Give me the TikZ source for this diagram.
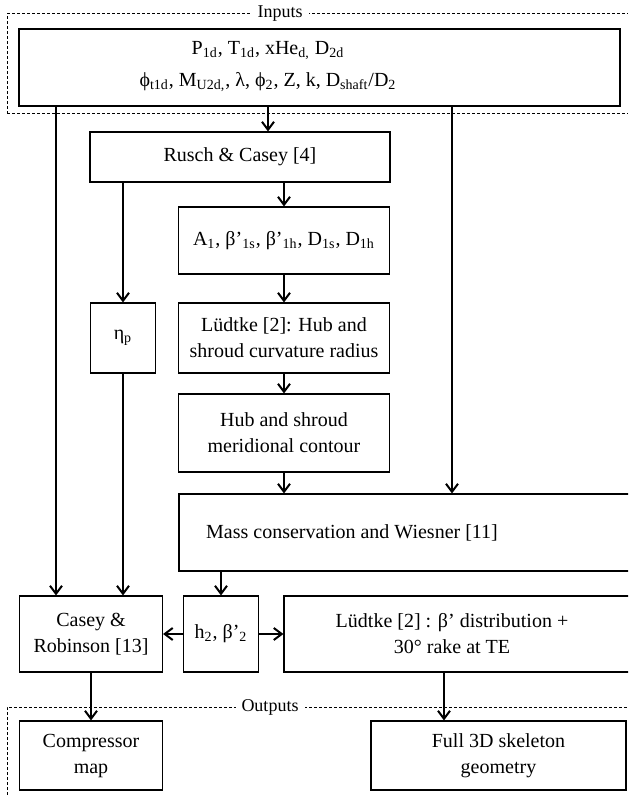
\documentclass[tikz,border=0pt]{standalone}
\usepackage{fontspec}
\setmainfont{Liberation Serif}
\usetikzlibrary{arrows.meta}

\begin{document}
\begin{tikzpicture}[x=0.5pt,y=-0.5pt,
    box/.style={draw,line width=0.55pt,inner sep=0pt,align=center,font=\fontsize{10}{13}\selectfont},
    txt/.style={inner sep=0pt,align=center,font=\fontsize{10}{13}\selectfont},
    frame/.style={dash pattern=on 1.5pt off 1pt,line width=0.5pt},
    tag/.style={fill=white,inner xsep=3pt,inner ysep=1pt,font=\fontsize{9}{10}\selectfont},
    arr/.style={-{Straight Barb[length=4pt,width=6pt]},line width=1pt}]

        \clip (0,0) rectangle (628,795);

        \draw[frame] (7,114) -- (7,14) -- (628,14);
        \draw[frame] (7,114) -- (628,114);
        \draw[frame] (7,795) -- (7,707) -- (628,707);
        \node[tag] (intag) at (280,14) {Inputs};
        \node[tag] (outtag) at (270,707) {Outputs};

        \begin{scope}[every node/.style={box}]
            \node[minimum width=300.5pt,minimum height=38.5pt] (inputs) at (319.5,67.5) {};
            \node[minimum width=150pt,minimum height=25pt] (rusch) at (240,157) {Rusch \& Casey [4]};
            \node[minimum width=105.5pt,minimum height=33.5pt] (geom) at (284,240.5)
                {A\textsubscript{1}, β’\textsubscript{1s}, β’\textsubscript{1h}, D\textsubscript{1s}, D\textsubscript{1h}};
            \node[minimum width=32.5pt,minimum height=35pt] (eta) at (123,338) {η\textsubscript{p}};
            \node[minimum width=105.5pt,minimum height=35pt] (lud1) at (284,338)
                {Lüdtke [2]: Hub and\\shroud curvature radius};
            \node[minimum width=105.5pt,minimum height=39pt] (hub) at (284,433)
                {Hub and shroud\\meridional contour};
            \node[minimum width=230.5pt,minimum height=38.5pt] (mass) at (409.5,532.5) {};
            \node[minimum width=71.5pt,minimum height=38pt] (casey) at (91,634) {Casey \&\\Robinson [13]};
            \node[minimum width=37.5pt,minimum height=38pt] (h2) at (221,634) {h\textsubscript{2}, β’\textsubscript{2}};
            \node[minimum width=178pt,minimum height=38pt] (lud2) at (462,634) {};
            \node[minimum width=71.5pt,minimum height=34.5pt] (comp) at (91,755.5) {Compressor\\map};
            \node[minimum width=127.5pt,minimum height=34.5pt] (full) at (498.5,755.5)
                {Full 3D skeleton\\geometry};
        \end{scope}

        \node[txt,font=\fontsize{10}{16}\selectfont] (intext) at (268,67)
            {P\textsubscript{1d}, T\textsubscript{1d}, xHe\textsubscript{d,} D\textsubscript{2d}\\
             ϕ\textsubscript{t1d}, M\textsubscript{U2d,}, λ, ϕ\textsubscript{2}, Z, k, D\textsubscript{shaft}/D\textsubscript{2}};
        \node[txt] (masstext) at (352,533) {Mass conservation and Wiesner [11]};
        \node[txt] (lud2text) at (452,634) {Lüdtke [2] : β’ distribution +\\30° rake at TE};

        \coordinate (laneL) at (56,0);
        \coordinate (laneR) at (452,0);
        \coordinate (laneO) at (444,0);

        \path [arr] (inputs.south -| intext) edge (rusch.north -| intext)
            (inputs.south -| laneL) edge (casey.north -| laneL)
            (inputs.south -| laneR) edge (mass.north -| laneR)
            (rusch.south -| eta) edge (eta.north)
            (rusch.south -| geom) edge (geom.north)
            (geom.south) edge (lud1.north)
            (lud1.south) edge (hub.north)
            (hub.south) edge (hub.south |- mass.north)
            (eta.south) edge (eta.south |- casey.north)
            (mass.south -| h2) edge (h2.north)
            (h2.west) edge (casey.east)
            (h2.east) edge (lud2.west)
            (casey.south) edge (comp.north)
            (lud2.south -| laneO) edge (full.north -| laneO);
    \end{tikzpicture}
\end{document}
